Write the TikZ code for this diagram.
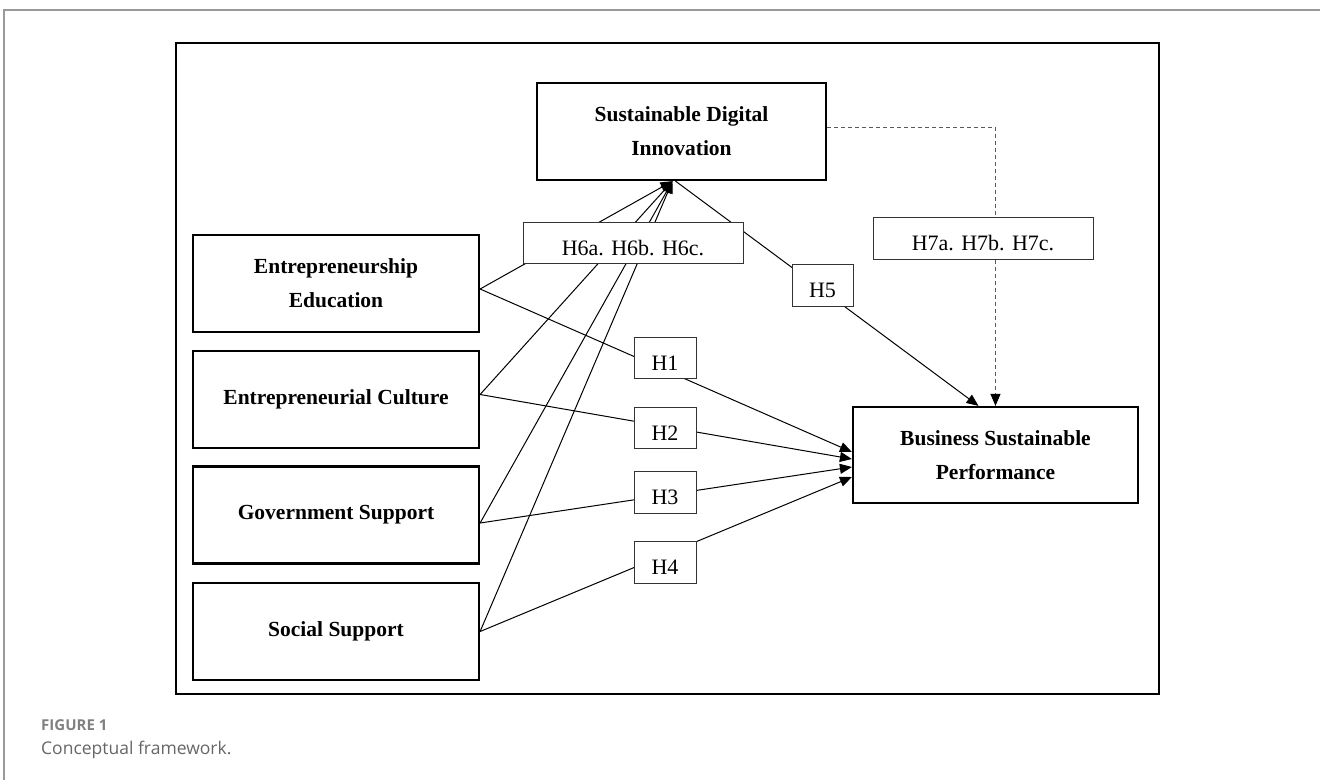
\documentclass[tikz,border=0pt]{standalone}
\usepackage{fontspec}
\setmainfont{Liberation Serif}
\newfontfamily\capfont{Open Sans}
\usetikzlibrary{arrows.meta,calc}
\begin{document}
\begin{tikzpicture}[x=1pt,y=-1pt,
  mainbox/.style={draw=black,line width=2.2pt,fill=white,inner sep=0pt,align=center,
    font=\fontsize{21.5}{34}\selectfont\bfseries,minimum width=286pt,minimum height=97pt},
  hbox/.style={draw=black!80,line width=1pt,fill=white,inner sep=0pt,
    font=\fontsize{22}{26}\selectfont,text height=27pt,text depth=2pt,minimum height=41pt},
  link/.style={line width=1pt,draw=black},
  arr/.style={link,-{Triangle[length=12pt,width=10pt,black]}},
  dasharr/.style={line width=1pt,draw=black!65,dash pattern=on 4pt off 3pt,-{Triangle[length=12pt,width=10pt,black]}},
]
\useasboundingbox (0,0) rectangle (1320,780);
% outer frame
\draw[black!40,line width=1.5pt] (1320,10) -- (4,10) -- (4,780);
% inner frame
\draw[black,line width=2pt] (176,43) rectangle (1159,694);

% main boxes
\node[mainbox,minimum width=289pt] (sdi) at (681.5,131.5) {Sustainable Digital\\Innovation};
\node[mainbox] (edu) at (336,283.5) {Entrepreneurship\\Education};
\node[mainbox] (cul) at (336,399.5) {Entrepreneurial Culture};
\node[mainbox] (gov) at (336,515) {Government Support};
\node[mainbox] (soc) at (336,631.5) {Social Support};
\node[mainbox,minimum width=285pt,minimum height=96pt] (bsp) at (995.5,455) {Business Sustainable\\Performance};

% anchor points
\coordinate (eduO) at ([yshift=-5.5pt]edu.east);
\coordinate (culO) at ([yshift=5pt]cul.east);
\coordinate (govO) at ([yshift=-8pt]gov.east);
\coordinate (socO) at (soc.east);
\coordinate (sdiT) at ([xshift=-9pt]sdi.south);
\coordinate (sdiS) at ([xshift=-6pt]sdi.south);
\coordinate (bspA) at ([yshift=3pt]bsp.west);
\coordinate (bspB) at ([yshift=-4pt]bsp.west);
\coordinate (bspC) at ([yshift=-12pt]bsp.west);
\coordinate (bspD) at ([yshift=-22pt]bsp.west);
\coordinate (bspT) at ([xshift=-17pt]bsp.north);

% connectors to SDI
\draw[arr] (eduO) -- (sdiT);
\draw[arr] (culO) -- (sdiT);
\draw[arr] (govO) -- (sdiT);
\draw[arr] (socO) -- (sdiT);
% direct effects
\draw[arr] (eduO) -- (bspA);
\draw[arr] (culO) -- (bspB);
\draw[arr] (govO) -- (bspC);
\draw[arr] (socO) -- (bspD);
% H5
\draw[arr] (sdiS) -- (bspT);
% dashed moderation
\draw[dasharr] ([yshift=4.5pt]sdi.east) -| (bsp.north);

% hypothesis labels
\node[hbox,minimum width=220pt] (h6) at (633,242.5) {H6a. H6b. H6c.};
\node[hbox,minimum width=220pt,minimum height=42pt] (h7) at (983,238) {H7a. H7b. H7c.};
\node[hbox,minimum width=61pt,minimum height=42pt] (h5) at (822.5,285) {H5};
\node[hbox,minimum width=62pt] (h1) at (665,357.5) {H1};
\node[hbox,minimum width=62pt] (h2) at (665,427.5) {H2};
\node[hbox,minimum width=62pt,minimum height=42pt] (h3) at (665,492) {H3};
\node[hbox,minimum width=62pt,minimum height=42pt] (h4) at (665,562) {H4};

% caption
\node[anchor=base west,inner sep=0pt,text=black!50,font=\capfont\bfseries\fontsize{15}{17}\selectfont] (figlabel) at (41,730) {FIGURE 1};
\node[anchor=base west,inner sep=0pt,text=black!60,font=\capfont\fontsize{17.5}{20}\selectfont] (figcap) at (41,754) {Conceptual framework.};
\end{tikzpicture}
\end{document}
